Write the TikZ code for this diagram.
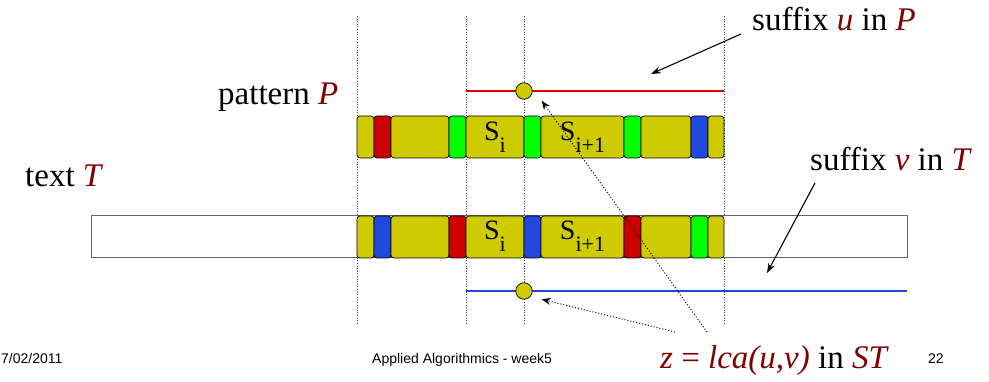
\documentclass[tikz,border=0pt]{standalone}
\usepackage{fontspec}
\setmainfont{Liberation Serif}
\newfontfamily\footfont{Liberation Sans}
\usetikzlibrary{arrows.meta}
\definecolor{segY}{RGB}{206,204,0}
\definecolor{segR}{RGB}{204,0,0}
\definecolor{segG}{RGB}{0,255,0}
\definecolor{segB}{RGB}{34,72,221}
\definecolor{lineR}{RGB}{221,0,0}
\definecolor{lineB}{RGB}{34,68,221}
\definecolor{maroon}{RGB}{128,0,0}
\begin{document}
\begin{tikzpicture}[x=1pt,y=-1pt,
  seg/.style={draw=black, line width=0.7pt, rounded corners=3pt, inner sep=0pt, minimum height=42pt},
  guide/.style={draw=black!75, dotted, line width=0.6pt},
  lbl/.style={inner sep=0pt, anchor=base west, font=\fontsize{33}{38}\selectfont},
  foot/.style={inner sep=0pt, anchor=base west, font=\footfont\fontsize{14}{16}\selectfont},
  stxt/.style={inner sep=0pt, anchor=base, font=\fontsize{28}{32}\selectfont},
  arr/.style={-{Stealth[length=10pt,width=7pt]}, line width=1.1pt},
  darr/.style={-{Stealth[length=9pt,width=7pt]}, dotted, line width=1pt},
  zdot/.style={circle, draw=black, line width=0.7pt, fill=segY, minimum size=16.5pt, inner sep=0pt},
  suffline/.style={line width=2.7pt}
]
\useasboundingbox (0,0) rectangle (989,382);

% vertical guides
\foreach \x in {357,466,524,724}
  \draw[guide] (\x,16) -- (\x,323);

% text box
\node[draw=black!60, line width=1pt, fill=white, minimum width=816pt, minimum height=42pt, inner sep=0pt] (T) at (499,237) {};

% pattern row
\foreach \a/\b/\c/\n in {357/374/segY/p1, 374/391/segR/p2, 391/449/segY/p3, 449/466/segG/p4, 466/524/segY/p5, 524/541/segG/p6, 541/624/segY/p7, 624/641/segG/p8, 641/691/segY/p9, 691/708/segB/p10, 708/724/segY/p11}
  \node[seg, fill=\c, minimum width={(\b-\a)*1pt}] (\n) at ({(\a+\b)/2},137) {};

% text row
\foreach \a/\b/\c/\n in {357/374/segY/t1, 374/391/segB/t2, 391/449/segY/t3, 449/466/segR/t4, 466/524/segY/t5, 524/541/segB/t6, 541/624/segY/t7, 624/641/segR/t8, 641/691/segY/t9, 691/708/segG/t10, 708/724/segY/t11}
  \node[seg, fill=\c, minimum width={(\b-\a)*1pt}] (\n) at ({(\a+\b)/2},237) {};

\node[stxt] (ps1) at ([yshift=-4pt]p5.center) {S\raisebox{-12pt}{\fontsize{22}{26}\selectfont i}};
\node[stxt] (ps2) at ([yshift=-4pt]p7.center) {S\raisebox{-12pt}{\fontsize{22}{26}\selectfont i+1}};
\node[stxt] (ts1) at ([yshift=-3pt]t5.center) {S\raisebox{-12pt}{\fontsize{22}{26}\selectfont i}};
\node[stxt] (ts2) at ([yshift=-3pt]t7.center) {S\raisebox{-12pt}{\fontsize{22}{26}\selectfont i+1}};

% suffix lines
\coordinate (rL) at (466,91);
\coordinate (rR) at (724,91);
\coordinate (bL) at (466,291);
\coordinate (bR) at (907,291);
\draw[suffline, lineR] (rL) -- (rR);
\draw[suffline, lineB] (bL) -- (bR);
\node[zdot] (zu) at (524,91) {};
\node[zdot] (zv) at (524,291) {};

% labels
\node[lbl] (pat) at (218,105) {pattern \textcolor{maroon}{\textit{P}}};
\node[lbl] (txt) at (25,187) {text \textcolor{maroon}{\textit{T}}};
\node[lbl] (su) at (752,31) {suffix \textcolor{maroon}{\textit{u}} in \textcolor{maroon}{\textit{P}}};
\node[lbl] (sv) at (810,171) {suffix \textcolor{maroon}{\textit{v}} in \textcolor{maroon}{\textit{T}}};
\node[lbl] (zl) at (660,368) {\textcolor{maroon}{\textit{z} = \textit{lca(u,v)}} in \textcolor{maroon}{\textit{ST}}};

% arrows
\coordinate (suT) at (741,34);
\coordinate (suH) at (651,74);
\coordinate (svT) at (815,183);
\coordinate (svH) at (767,273);
\coordinate (zT1) at (707,332);
\coordinate (zH1) at (541.7,100.7);
\coordinate (zT2) at (675,332);
\coordinate (zH2) at (541.7,299.3);
\draw[arr] (suT) -- (suH);
\draw[arr] (svT) -- (svH);
\draw[darr] (zT1) -- (zH1);
\draw[darr] (zT2) -- (zH2);

% footer
\node[foot] (date) at (1,363) {7/02/2011};
\node[foot] (title) at (372,363) {Applied Algorithmics - week5};
\node[foot] (pg) at (928,363) {22};
\end{tikzpicture}
\end{document}
